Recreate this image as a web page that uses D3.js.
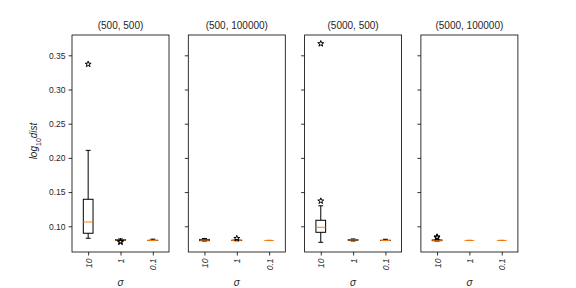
<!DOCTYPE html>
<html>
<head>
<meta charset="utf-8">
<script src="https://cdn.jsdelivr.net/npm/d3@7"></script>
<style>
  body { margin: 0; background: #fff; }
  text { font-family: "Liberation Sans", Arial, sans-serif; fill: #262626; }
</style>
</head>
<body>
<div id="chart"></div>
<script>
// Chart data
var titles = ["(500, 500)", "(500, 100000)", "(5000, 500)", "(5000, 100000)"];
var sigmas = ["10", "1", "0.1"];
var yTicks = [0.10, 0.15, 0.20, 0.25, 0.30, 0.35];

// box statistics: one row per panel, one value per sigma
var whiskLo = [[0.0825, 0.0790, 0.0793], [0.0785, 0.0788, 0.0793], [0.0766, 0.0785, 0.0793], [0.0785, 0.0793, 0.0793]];
var q1 = [[0.0898, 0.0795, 0.0793], [0.0790, 0.0792, 0.0793], [0.0912, 0.0795, 0.0793], [0.0790, 0.0793, 0.0793]];
var median = [[0.1063, 0.0800, 0.0793], [0.0798, 0.0794, 0.0793], [0.0985, 0.0800, 0.0793], [0.0795, 0.0793, 0.0793]];
var q3 = [[0.1395, 0.0806, 0.0795], [0.0808, 0.0797, 0.0793], [0.1088, 0.0805, 0.0795], [0.0800, 0.0793, 0.0793]];
var whiskHi = [[0.2110, 0.0815, 0.0812], [0.0822, 0.0803, 0.0793], [0.1300, 0.0815, 0.0810], [0.0805, 0.0793, 0.0793]];
var fliers = [
  [[0.337], [0.0775, 0.0770], []],
  [[], [0.0822], []],
  [[0.367, 0.137], [], []],
  [[0.0835, 0.0845], [], []]
];

var svgWidth = 576, svgHeight = 288;
var margin = { top: 35, left: 72, bottom: 36 };
var panelW = 97, gap = 19.3;
var panelH = svgHeight - margin.top - margin.bottom;

var svg = d3.select("#chart").append("svg")
  .attr("width", svgWidth)
  .attr("height", svgHeight);

var yScale = d3.scaleLinear()
  .domain([0.0624, 0.3797])
  .range([panelH, 0]);

var xScale = d3.scaleLinear()
  .domain([0.5, 3.5])
  .range([0, panelW]);

var boxW = xScale(1.15) - xScale(0.85);
var capW = boxW / 2;
var star = d3.symbol().type(d3.symbolStar).size(11);

titles.forEach(function(title, p) {
  var g = svg.append("g")
    .attr("transform", `translate(${margin.left + p * (panelW + gap)}, ${margin.top})`);

  // axes
  var leftAxis = d3.axisLeft(yScale).tickValues(yTicks).tickSize(3.5).tickPadding(3)
    .tickFormat(p === 0 ? d3.format(".2f") : "");
  var yAx = g.append("g").call(leftAxis);
  yAx.select(".domain").remove();
  yAx.selectAll("line").attr("stroke", "#000").attr("stroke-width", 0.8);
  yAx.selectAll("text").style("font-size", "8.5px").style("font-family", "Liberation Sans, Arial, sans-serif").attr("fill", "#262626");

  var bottomAxis = d3.axisBottom(xScale).tickValues([1, 2, 3]).tickSize(3.5)
    .tickFormat(function(d) { return sigmas[d - 1]; });
  var xAx = g.append("g").attr("transform", `translate(0, ${panelH})`).call(bottomAxis);
  xAx.select(".domain").remove();
  xAx.selectAll("line").attr("stroke", "#000").attr("stroke-width", 0.8);
  xAx.selectAll("text")
    .attr("y", 0).attr("dy", null)
    .attr("transform", "translate(3, 6.5) rotate(-90)")
    .attr("text-anchor", "end")
    .style("font-size", "8.5px")
    .style("font-style", "italic")
    .style("font-family", "Liberation Sans, Arial, sans-serif")
    .attr("fill", "#262626");

  // frame
  g.append("rect")
    .attr("width", panelW).attr("height", panelH)
    .attr("fill", "none").attr("stroke", "#000").attr("stroke-width", 0.8);

  // title
  g.append("text")
    .attr("x", panelW / 2).attr("y", -6)
    .attr("text-anchor", "middle")
    .style("font-size", "10px")
    .text(title);

  // x label
  g.append("text")
    .attr("x", panelW / 2).attr("y", panelH + 34)
    .attr("text-anchor", "middle")
    .style("font-size", "10px")
    .style("font-style", "italic")
    .text("σ");

  // boxes
  sigmas.forEach(function(s, i) {
    var cx = xScale(i + 1);
    var b = g.append("g");
    b.append("line")
      .attr("x1", cx).attr("x2", cx)
      .attr("y1", yScale(whiskLo[p][i])).attr("y2", yScale(q1[p][i]))
      .attr("stroke", "#000");
    b.append("line")
      .attr("x1", cx).attr("x2", cx)
      .attr("y1", yScale(q3[p][i])).attr("y2", yScale(whiskHi[p][i]))
      .attr("stroke", "#000");
    [whiskLo[p][i], whiskHi[p][i]].forEach(function(v) {
      b.append("line")
        .attr("x1", cx - capW / 2).attr("x2", cx + capW / 2)
        .attr("y1", yScale(v)).attr("y2", yScale(v))
        .attr("stroke", "#000");
    });
    b.append("rect")
      .attr("x", cx - boxW / 2).attr("width", boxW)
      .attr("y", yScale(q3[p][i]))
      .attr("height", Math.max(0, yScale(q1[p][i]) - yScale(q3[p][i])))
      .attr("fill", "none").attr("stroke", "#000");
    b.append("line")
      .attr("x1", cx - boxW / 2).attr("x2", cx + boxW / 2)
      .attr("y1", yScale(median[p][i])).attr("y2", yScale(median[p][i]))
      .attr("stroke", "#ff7f0e");
    fliers[p][i].forEach(function(v) {
      b.append("path")
        .attr("d", star)
        .attr("transform", `translate(${cx}, ${yScale(v)})`)
        .attr("fill", "none").attr("stroke", "#000").attr("stroke-width", 1);
    });
  });
});

// y label
var yl = svg.append("text")
  .attr("transform", `translate(37, ${margin.top + 106}) rotate(-90)`)
  .attr("text-anchor", "middle")
  .style("font-size", "10px")
  .style("font-style", "italic");
yl.append("tspan").text("log");
yl.append("tspan").attr("baseline-shift", "sub").style("font-size", "7px").style("font-style", "normal").text("10");
yl.append("tspan").text("dist");
</script>
</body>
</html>
